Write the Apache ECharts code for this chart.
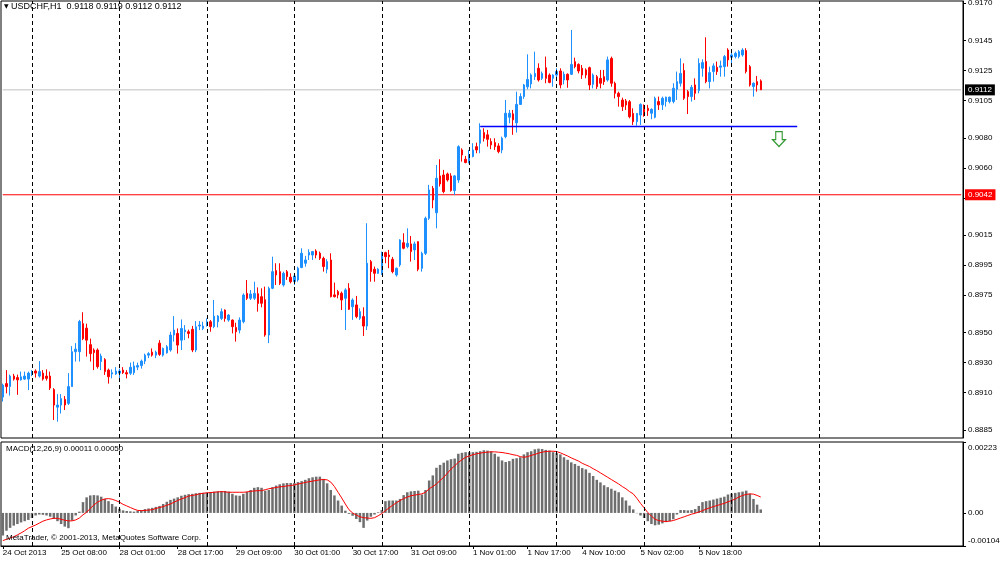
<!DOCTYPE html>
<html>
<head>
<meta charset="utf-8">
<title>USDCHF,H1</title>
<script src="https://cdn.jsdelivr.net/npm/echarts@6/dist/echarts.min.js"></script>
<style>
html,body{margin:0;padding:0;background:#fff;}
#chart{width:1000px;height:563px;}
</style>
</head>
<body>
<div id="chart"></div>
<script>
// USDCHF H1 bars, prices in pips (x 0.0001)
var opens = [
8907,8916,8914,8921,8920,8918.5,8919,8919,8922,8924.4,
8921,8923,8921,8921,8912,8900.3,8901.7,8905.5,8902.8,8914,
8937.3,8937.3,8956,8953,8942,8938.4,8938.4,8930.7,8932,8925,
8922.4,8922.4,8923,8925,8923.3,8922.9,8923.3,8927,8928,8931,
8935,8937,8935,8943,8935,8936.5,8938.4,8948.4,8949.5,8945,
8950.6,8950.6,8952.2,8938.4,8954.4,8952.8,8955.1,8957.3,8954,8957.3,
8959.5,8965.1,8958.4,8958.4,8953.5,8951.7,8957.3,8976.2,8972.9,8973,
8976,8974,8972,8948.4,8979.6,8991.4,8990.7,8981.8,8990.7,8987,
8984.1,8985.2,8993.5,8996.3,9001.8,9001.8,9004.5,9003,8999.6,8992.3,
8998.5,8975.2,8977.4,8976.3,8972.9,8979.6,8967.3,8968.5,8959.6,8960.7,
8954.4,8997.4,8992.3,8989.6,8989.6,9003.4,9001.8,8998.9,8988.5,8995.2,
9010,9007.4,9009.2,9005.2,9010.7,8992.9,9002.9,9026.3,9046.3,9030,
9054.6,9055.2,9055.9,9054.6,9044.8,9051.9,9071.9,9065.7,9064.1,9067.5,
9074.1,9076.4,9083.5,9082,9077.5,9076.8,9074.6,9071.9,9080.8,9093.7,
9096,9090,9102.3,9107.5,9114,9116,9120.8,9126.4,9119.7,9126.8,
9121.9,9119.7,9121.9,9124.6,9118.6,9122.4,9122.4,9130.8,9129,9126.4,
9125.3,9126.8,9115.7,9120.8,9119.7,9120.8,9118.6,9133,9116.4,9109.7,
9105.2,9104.6,9104.1,9096.3,9090.8,9095.2,9099.7,9099.7,9096.4,9093.7,
9104.2,9102,9104.2,9104.2,9104.2,9112.4,9116.4,9124.9,9110.8,9107.5,
9115.3,9111.5,9126.4,9130.9,9117.5,9124.2,9127.1,9127.1,9127.5,9138.6,
9133.8,9134.2,9134.2,9135.3,9138.2,9127.5,9114.2,9117.5,9118
];
var highs = [
8916,8925,8922,8922.5,8922,8924,8924,8924,8925,8925.5,
8931,8925,8925.5,8924,8913,8909,8909,8907.7,8923,8941,
8943,8958.5,8963.6,8956,8946,8939.5,8939.5,8936,8933,8926,
8925.5,8927,8926,8927,8925,8930,8930.7,8930,8932,8936,
8937,8939.5,8938,8945,8940,8941.7,8950.6,8961,8952.8,8958.8,
8955,8952,8954.5,8957.7,8957.7,8957.3,8959.5,8958.4,8971.8,8961.7,
8966.2,8965.5,8962.4,8958.8,8956.6,8960.2,8976.2,8985.1,8978.4,8984,
8980.2,8979.6,8980.7,8980.7,9000.7,8996.3,8996.3,8990.7,8991.8,8989.6,
8989.6,8994,9006.3,9001.2,9005.6,9004.5,9005.6,9004.1,9000.7,8999,
9003,8983.4,8978.5,8977.4,8979.6,8983,8972.9,8974.5,8966.2,8966.9,
9023,8998.5,8994.1,8993,9004.1,9004,9005.2,9000.5,8993.5,9012.3,
9016.3,9019.6,9014.5,9010.7,9011,9004,9027.4,9048.6,9047.9,9061.9,
9065.7,9058.6,9056.8,9056.4,9055.2,9075,9073,9067.9,9071.9,9076.4,
9076.8,9089.7,9086.4,9085.3,9079.7,9079.7,9076.4,9080.8,9105.3,9098.6,
9098.6,9110.8,9109.7,9116,9135.7,9123,9137.5,9129.7,9124.2,9134.2,
9123,9122.4,9126.4,9126.4,9124.2,9123,9152,9133.5,9129.7,9128.6,
9126.4,9127.5,9123,9121.9,9125.3,9125.3,9134.2,9134.2,9117.5,9110.8,
9106.8,9105.9,9105.2,9099.7,9096.4,9103,9102.3,9102,9099.7,9107.5,
9107.5,9107.5,9107.5,9107.5,9116.4,9124.2,9133,9129.7,9111.9,9115.3,
9119.7,9133,9132.4,9147.1,9127.5,9129.7,9130.9,9131.5,9135.3,9139.8,
9138.2,9137.5,9138.6,9139.8,9139.8,9128.6,9117,9121.3,9119
];
var lows = [
8904,8909.5,8908,8918,8908.5,8918,8918.5,8911.7,8921,8920,
8920,8918,8918,8911.7,8891.7,8890.6,8896,8898.4,8901.7,8914,
8930.7,8930.7,8945,8934,8930.7,8925,8926,8925,8921.8,8916,
8919.5,8921.8,8919.5,8922.4,8919.5,8921.8,8921.8,8925,8926,8929,
8933,8934,8933,8934.5,8934,8936,8937.3,8944,8936,8938.4,
8945,8946.2,8937,8937,8951.7,8951.7,8954,8950.6,8953,8953.5,
8958.4,8957.3,8957.3,8949.5,8944,8949.5,8956.2,8971.8,8971.8,8971.8,
8964,8966.9,8947.3,8943,8979,8981.8,8981.8,8980.7,8985.2,8982.9,
8981.8,8984,8993,8994,8998.5,8998.5,8999.6,8998.5,8990.7,8989.6,
8973.5,8973.5,8972.9,8965.1,8951.8,8965.1,8958.5,8959.6,8958.5,8947.8,
8951.8,8984,8984,8989.2,8988.5,8996.3,8993,8989.6,8987.4,8994,
9005.6,9006.3,8997.4,8998.5,8991,8990.7,9001.8,9025.2,9033,9019.6,
9047.5,9043,9050.8,9044.1,9041.9,9050,9064.1,9063,9063,9067,
9069.7,9069.7,9077.5,9074.1,9072.4,9071.9,9069.7,9069.7,9079.7,9089.7,
9082,9083.5,9101.9,9106,9112.4,9113,9118.6,9117.5,9118.6,9116.4,
9116.4,9114.1,9119.7,9113,9115.7,9113.4,9121.9,9126.4,9123,9119.3,
9119.7,9111.9,9113,9112.6,9113,9115.3,9117.5,9114.1,9106.3,9100.8,
9097.9,9098.6,9093,9088.6,9088.1,9088.6,9094.1,9094.6,9092.4,9093,
9098.6,9098.6,9100.8,9103,9103,9105.3,9114.2,9105.3,9095.9,9104.2,
9105.3,9109.7,9120.8,9116.4,9113,9117.5,9122,9120.8,9120.8,9127.5,
9129.7,9133,9133,9134.2,9123,9114.2,9107.5,9110.8,9112
];
var closes = [
8915,8914,8921,8919,8918.5,8920.5,8921,8923,8924,8923,
8924,8919,8919.5,8913,8901.7,8901.7,8906,8901.7,8914,8937.3,
8939,8957.4,8946,8945,8936,8936.7,8927.3,8934.4,8924,8920.6,
8923.3,8924.4,8924.4,8923.3,8922.4,8926.9,8927.8,8928,8931,8935,
8936,8935,8937,8935.5,8939.5,8940.6,8948.4,8951.7,8941.7,8952.8,
8951.7,8949.5,8938.4,8953.9,8955.1,8954.4,8957.3,8954,8961,8961.1,
8964,8959.5,8961.7,8954,8950.6,8958.4,8975.1,8972.9,8975.8,8976.2,
8969.5,8969.6,8948.4,8979.6,8990.7,8988.5,8982.9,8989.6,8987.4,8984,
8987.8,8993,9003,8998.5,9003.6,9004.1,9001.8,8999.6,8994.1,8997.4,
8974,8974,8975.2,8971.8,8978.5,8965.6,8971.8,8960.7,8964,8954.4,
8996.3,8990.7,8989.6,8992.3,9003,9000.7,9000.7,8990.7,8992.9,9011.8,
9006.3,9009.6,9004.1,9009.2,8992.3,9002.9,9026.3,9045.2,9038.5,9053,
9049.2,9044.1,9051.9,9044.8,9054.6,9074.1,9068.6,9063.5,9068.6,9071.9,
9071.9,9085.3,9079.7,9079,9075.3,9074.1,9070.8,9079.7,9096.4,9096.4,
9092,9102.3,9107.5,9115.3,9119,9122,9123,9118.6,9123,9119.7,
9117,9121.9,9124.2,9115.3,9122.4,9118.6,9129,9127.5,9124.6,9121.9,
9121.9,9115.3,9121.9,9114.1,9116.4,9117.5,9132,9116.4,9109.7,9107.5,
9100.8,9101.9,9094.1,9090.8,9096.3,9102.3,9097,9098.2,9099,9106.4,
9102,9106.4,9107.1,9107.1,9113.1,9117.5,9123,9106.4,9107.5,9113.7,
9109.7,9129.7,9130.2,9117.5,9123.5,9128,9124.2,9128,9134.2,9132,
9135.3,9136.4,9137.5,9138.6,9124.2,9115.3,9116.4,9115.3,9112
];

// MACD(12,26,9), values in units of 0.00001
var macdMain = [
-71,-56,-47,-40,-35,-30,-26,-22,-16,-8,
-5,-6,-8,-12,-19,-26,-35,-43,-48,-24,
-8,4,34,49,55,56,55,51,44,37,
28,20,13,8,6,5,4,7,9,12,
14,16,19,22,28,35,41,45,49,54,
57,59,60,62,63,63,64,66,67,68,
69,69,67,60,55,54,60,66,72,79,
81,79,70,72,81,86,90,93,94,94,
94,97,100,104,109,112,114,114,107,93,
72,55,39,23,7,-3,-9,-19,-29,-47,
-24,-12,-5,2,9,37,39,39,39,44,
56,65,68,69,70,58,72,102,118,142,
151,158,165,169,171,186,189,191,191,191,
192,194,197,196,194,186,177,165,160,163,
170,172,175,184,191,194,200,202,201,198,
196,191,188,184,175,167,159,154,148,141,
137,126,116,104,96,87,81,76,70,65,
49,39,23,11,-1,-8,-16,-26,-35,-39,
-37,-33,-29,-26,-20,-5,9,9,8,9,
12,22,34,37,39,42,45,48,51,58,
61,63,65,67,70,60,44,26,11
];
var macdSignal = [
-87,-83,-79,-75,-69,-63,-56,-48,-43,-38,
-32,-26,-22,-19,-17,-17,-20,-23,-25,-25,
-22,-16,-6,2,14,25,34,40,44,45,
43,39,34,27,22,17,12,8,7,8,
9,10,14,17,20,24,28,34,39,44,
48,53,55,57,60,62,63,64,65,66,
67,66,65,65,65,65,65,66,68,69,
70,70,73,76,78,80,82,83,85,86,
88,91,93,96,98,100,102,104,105,104,
97,83,65,47,28,10,0,-7,-12,-15,
-16,-17,-15,-9,-2,7,16,24,32,39,
45,50,54,56,58,60,65,76,83,91,
102,112,125,138,148,159,167,175,179,183,
186,188,190,191,192,192,191,190,188,186,
183,181,177,175,177,181,184,188,191,193,
194,194,193,189,184,179,173,168,163,156,
151,146,139,133,126,119,112,105,98,91,
83,76,67,60,46,30,16,1,-10,-20,
-24,-26,-27,-26,-24,-20,-16,-12,-8,-4,
-1,3,7,12,16,20,23,27,30,35,
39,44,50,55,58,60,59,55,50
];

// axes
var slotCount = 264;           // bars plus the empty shift on the right
var priceTicks = [0.9170,0.9145,0.9125,0.9105,0.9080,0.9060,0.9040,0.9015,0.8995,0.8975,0.8950,0.8930,0.8910,0.8885];
var macdTicks = [-0.00104, 0, 0.00223];
var timeLabelIdx = [0,16,32,48,64,80,96,112,129,144,159,175,191];
var timeLabelText = ['24 Oct 2013','25 Oct 08:00','28 Oct 01:00','28 Oct 17:00','29 Oct 09:00','30 Oct 01:00',
  '30 Oct 17:00','31 Oct 09:00','1 Nov 01:00','1 Nov 17:00','4 Nov 10:00','5 Nov 02:00','5 Nov 18:00'];
var separatorIdx = [8,32,56,80,104,128,152,176,200,224];

// objects on the chart
var bidPrice = 0.9112;
var hLinePrice = 0.9042;
var trendLine = [[131, 0.90879], [218, 0.90879]];
var arrowPoint = [213, 0.90792];

var FONT = '"Liberation Sans", Arial, sans-serif';

var slots = [];
for (var s = 0; s < slotCount; s++) slots.push(s);

var candles = [];
for (var i = 0; i < opens.length; i++) {
    candles.push([opens[i] / 1e4, closes[i] / 1e4, lows[i] / 1e4, highs[i] / 1e4]);
}
var histData = macdMain.map(function (v) { return v / 1e5; });
var signalData = macdSignal.map(function (v) { return v / 1e5; });

var labelMap = {};
timeLabelIdx.forEach(function (idx, k) { labelMap[idx] = timeLabelText[k]; });
function isLabelSlot(index) { return labelMap.hasOwnProperty(index); }

var sepLines = separatorIdx.map(function (idx) { return { xAxis: idx }; });
var sepStyle = { color: '#000', type: [4, 3], width: 1 };

// a horizontal price level across the whole pane, with its box on the right axis
function priceLine(name, price, color, boxColor) {
    return {
        name: name, type: 'line', xAxisIndex: 0, yAxisIndex: 0, z: 1,
        data: [[0, price], [slotCount - 1, price]],
        showSymbol: false, symbol: 'none', silent: true,
        lineStyle: { color: color, width: 1, type: 'solid' },
        markLine: {
            silent: true, symbol: 'none', animation: false, precision: 5,
            lineStyle: { color: 'rgba(255,255,255,0)', width: 1 },
            label: { show: true, position: 'end', distance: 2, formatter: price.toFixed(4),
                backgroundColor: boxColor, color: '#fff', padding: [2, 3, 1, 3], fontSize: 8, fontFamily: FONT },
            data: [{ yAxis: price }]
        }
    };
}

var chart = echarts.init(document.getElementById('chart'), null, { renderer: 'canvas' });
chart.setOption({
    animation: false,
    backgroundColor: '#fff',
    title: [
        {
            text: '{tri|▼} USDCHF,H1  0.9118 0.9119 0.9112 0.9112',
            left: 4, top: 2, padding: 0,
            textStyle: { fontSize: 9, fontWeight: 'normal', color: '#000', fontFamily: FONT,
                rich: { tri: { fontSize: 6, color: '#000', fontFamily: '"DejaVu Sans", sans-serif' } } }
        },
        {
            text: 'MACD(12,26,9) 0.00011 0.00050',
            left: 6, top: 445, padding: 0,
            textStyle: { fontSize: 8, fontWeight: 'normal', color: '#000', fontFamily: FONT }
        },
        {
            text: 'MetaTrader, © 2001-2013, MetaQuotes Software Corp.',
            left: 6, top: 534, padding: 0,
            textStyle: { fontSize: 8, fontWeight: 'normal', color: '#000', fontFamily: FONT }
        }
    ],
    grid: [
        { left: 1, right: 37, top: 1, height: 437, show: true, borderColor: '#000', borderWidth: 1,
          backgroundColor: 'transparent', containLabel: false, outerBoundsMode: 'none' },
        { left: 1, right: 37, top: 442, height: 104, show: true, borderColor: '#000', borderWidth: 1,
          backgroundColor: 'transparent', containLabel: false, outerBoundsMode: 'none' }
    ],
    xAxis: [
        { type: 'category', gridIndex: 0, data: slots, boundaryGap: true,
          axisLine: { show: false, onZero: false }, axisTick: { show: false }, axisLabel: { show: false }, splitLine: { show: false } },
        { type: 'category', gridIndex: 1, data: slots, boundaryGap: true,
          axisLine: { show: true, onZero: false, lineStyle: { color: '#000', width: 1 } },
          axisTick: { show: true, length: 3, alignWithLabel: true, interval: function (index) { return isLabelSlot(index); },
              lineStyle: { color: '#000' } },
          axisLabel: { show: true, align: 'left', margin: 3, fontSize: 8, color: '#000', fontFamily: FONT,
              interval: function (index) { return isLabelSlot(index); },
              formatter: function (value, index) { return labelMap[index] || ''; } },
          splitLine: { show: false } }
    ],
    yAxis: [
        { type: 'value', gridIndex: 0, position: 'right', min: 0.88797, max: 0.91713, scale: true,
          axisLine: { show: true, lineStyle: { color: '#000', width: 1 } },
          axisTick: { show: true, length: 3, customValues: priceTicks, lineStyle: { color: '#000' } },
          axisLabel: { show: true, margin: 5, fontSize: 8, color: '#000', fontFamily: FONT, customValues: priceTicks,
              formatter: function (v) { return v.toFixed(4); } },
          splitLine: { show: false } },
        { type: 'value', gridIndex: 1, position: 'right', min: -0.00104, max: 0.00223,
          axisLine: { show: true, lineStyle: { color: '#000', width: 1 } },
          axisTick: { show: true, length: 3, customValues: macdTicks, lineStyle: { color: '#000' } },
          axisLabel: { show: true, margin: 5, fontSize: 8, color: '#000', fontFamily: FONT, customValues: macdTicks,
              formatter: function (v) {
                  if (v === 0) return '0.00';
                  return v > 0 ? '{top|' + v.toFixed(5) + '}' : '{bot|' + v.toFixed(5) + '}';
              },
              rich: {
                  top: { padding: [12, 0, 0, 0], fontSize: 8, color: '#000', fontFamily: FONT },
                  bot: { padding: [0, 0, 10, 0], fontSize: 8, color: '#000', fontFamily: FONT }
              } },
          splitLine: { show: false } }
    ],
    series: [
        priceLine('bid', bidPrice, '#c0c0c0', '#000'),
        priceLine('level', hLinePrice, '#ff0000', '#ff0000'),
        {
            name: 'USDCHF', type: 'candlestick', xAxisIndex: 0, yAxisIndex: 0,
            data: candles, barWidth: 2,
            itemStyle: { color: '#1e90ff', color0: '#ff0000', borderColor: '#1e90ff', borderColor0: '#ff0000', borderWidth: 1 },
            markLine: { silent: true, symbol: 'none', animation: false, precision: 5,
                lineStyle: sepStyle, label: { show: false }, data: sepLines }
        },
        {
            name: 'trend', type: 'line', xAxisIndex: 0, yAxisIndex: 0, data: [],
            markLine: { silent: true, symbol: 'none', animation: false, precision: 5,
                lineStyle: { color: '#0000ff', type: 'solid', width: 1.3 }, label: { show: false },
                data: [[{ coord: trendLine[0] }, { coord: trendLine[1] }]] }
        },
        {
            name: 'arrow', type: 'scatter', xAxisIndex: 0, yAxisIndex: 0,
            data: [arrowPoint],
            symbol: 'path://M3,0 L9,0 L9,8 L12,8 L6,15 L0,8 L3,8 Z',
            symbolSize: [13, 15],
            itemStyle: { color: '#fff', borderColor: '#008000', borderWidth: 1.2 },
            silent: true
        },
        {
            name: 'MACD', type: 'bar', xAxisIndex: 1, yAxisIndex: 1,
            data: histData, barWidth: 2.5,
            itemStyle: { color: '#6e6e6e' },
            markLine: { silent: true, symbol: 'none', animation: false,
                lineStyle: sepStyle, label: { show: false }, data: sepLines }
        },
        {
            name: 'Signal', type: 'line', xAxisIndex: 1, yAxisIndex: 1,
            data: signalData, showSymbol: false, symbol: 'none',
            lineStyle: { color: '#ff0000', width: 1 }
        }
    ]
});
</script>
</body>
</html>
